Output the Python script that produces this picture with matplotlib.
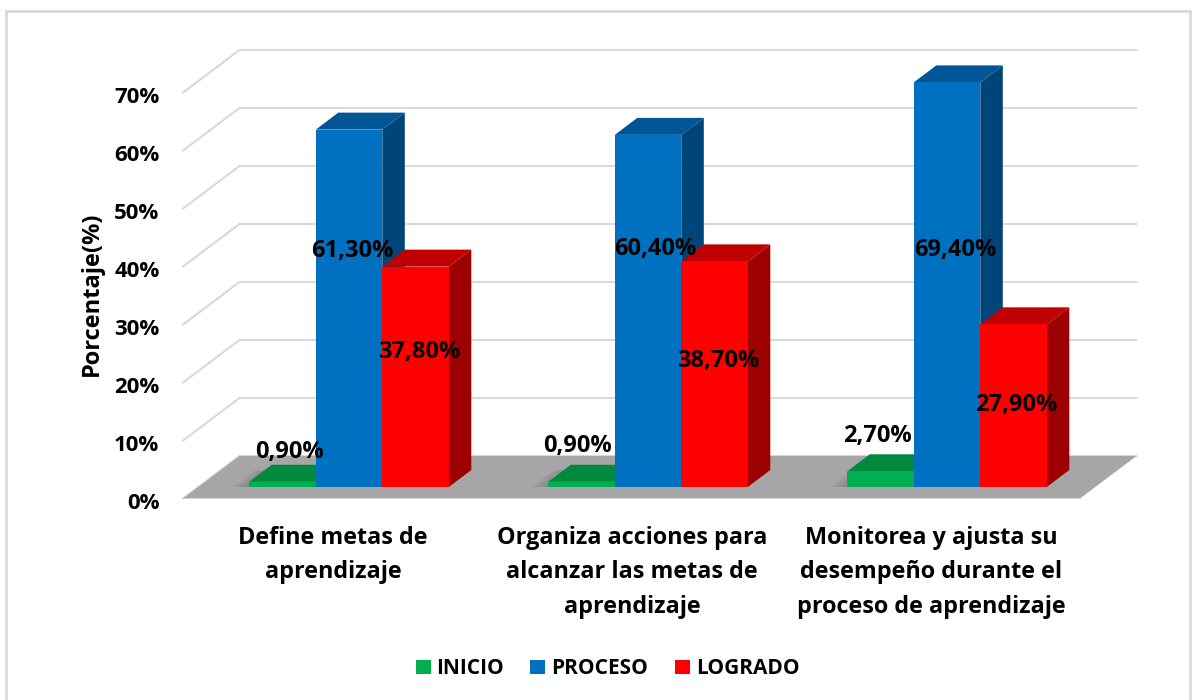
import matplotlib
matplotlib.use("Agg")
import matplotlib.pyplot as plt
from matplotlib.patches import Polygon, Rectangle
from matplotlib.transforms import ScaledTranslation

categories = ["Define metas de\naprendizaje",
              "Organiza acciones para\nalcanzar las metas de\naprendizaje",
              "Monitorea y ajusta su\ndesempeño durante el\nproceso de aprendizaje"]
series = ["INICIO", "PROCESO", "LOGRADO"]
inicio = [0.9, 0.9, 2.7]
proceso = [61.3, 60.4, 69.4]
logrado = [37.8, 38.7, 27.9]
value_labels = [["0,90%", "0,90%", "2,70%"],
                ["61,30%", "60,40%", "69,40%"],
                ["37,80%", "38,70%", "27,90%"]]
ticks = [0, 10, 20, 30, 40, 50, 60, 70]

W, H = 1200, 700
FONT = "Open Sans"
fig = plt.figure(figsize=(W / 100, H / 100), dpi=100, facecolor="white")
fig.add_artist(Rectangle((6 / W, 1 - 720 / H), 1184 / W, 709 / H, transform=fig.transFigure,
                         fill=False, ec="#d9d9d9", lw=2))
L, R, B, T = 183, 1080, 498.5, 92.5
ax = fig.add_axes([L / W, 1 - B / H, (R - L) / W, (B - T) / H])
ax.set_xlim(0, 3)
ax.set_ylim(0, 70)
ax.patch.set_visible(False)
for s in ax.spines.values():
    s.set_visible(False)

ux = (R - L) / 3      # px per x unit
uy = (B - T) / 70     # px per y unit
def dx(p): return p / ux
def dy(p): return p / uy

wall_dx, wall_dy = dx(56.5), dy(42.5)
# walls gridlines
for t in ticks:
    ax.plot([0, wall_dx, 3 + wall_dx], [t, t + wall_dy, t + wall_dy], color="#d9d9d9", lw=1.5,
            clip_on=False, zorder=1, solid_joinstyle="miter")
# floor
ax.add_patch(Polygon([(0, 0), (3, 0), (3 + wall_dx, wall_dy), (wall_dx, wall_dy)],
                     closed=True, fc="#a6a6a6", ec="none", clip_on=False, zorder=2))

colors = [("#00b050", "#008a3e", "#006f32"),
          ("#0070c0", "#005596", "#004578"),
          ("#ff0000", "#c00000", "#9c0000")]
bar_w = dx(66.5)
start = dx(66.3)
base_y = dy(11.5)
depth_x, depth_y = dx(22.5), dy(17)
perspective = 5.83 / uy   # bars stand nearer than the back wall the axis is scaled to
values = [inicio, proceso, logrado]
for c in range(3):
    # soft shadow on the floor, left of each group
    for k in range(1, 9):
        sx = c + start - dx(k * 2.2)
        ax.add_patch(Polygon([(sx, base_y), (c + start, base_y), (c + start + depth_x, base_y + depth_y),
                              (sx + depth_x, base_y + depth_y)],
                             closed=True, fc="#404040", alpha=0.045, ec="none", clip_on=False, zorder=3))
    for s in range(3):
        x = c + start + s * bar_w
        v = values[s][c] * perspective
        front, top, side = colors[s]
        y0, y1 = base_y, base_y + v
        z = 5 + c * 3 + s
        ax.add_patch(Polygon([(x + bar_w, y0), (x + bar_w + depth_x, y0 + depth_y),
                              (x + bar_w + depth_x, y1 + depth_y), (x + bar_w, y1)],
                             closed=True, fc=side, ec="none", clip_on=False, zorder=z))
        ax.add_patch(Polygon([(x, y1), (x + depth_x, y1 + depth_y),
                              (x + bar_w + depth_x, y1 + depth_y), (x + bar_w, y1)],
                             closed=True, fc=top, ec="none", clip_on=False, zorder=z))
        ax.add_patch(Rectangle((x, y0), bar_w, v, fc=front, ec="none", clip_on=False, zorder=z))

ax.set_yticks(ticks)
ax.set_yticklabels([f"{t}%" for t in ticks], fontsize=16, fontweight="bold", family=FONT)
ax.tick_params(axis="y", length=0, pad=17)
ax.set_xticks([])
shift = ScaledTranslation(0, -2 / 72, fig.dpi_scale_trans)
for lab in ax.get_yticklabels():
    lab.set_transform(lab.get_transform() + shift)

def px(x, y, s, **k):
    fig.text(x / W, 1 - (y + 2) / H, s, family=FONT, fontweight="bold", color="black",
             ha="center", va="center", zorder=50, **k)

label_pos = [[(289, 450), (577, 444), (877, 434)],
             [(352, 249), (655, 247), (955, 248)],
             [(419, 350), (718, 359), (1016, 403)]]
for s in range(3):
    for c in range(3):
        px(*label_pos[s][c], value_labels[s][c], fontsize=17)

px(92, 292, "Porcentaje(%)", fontsize=17, rotation=90)
for cx, lab in zip([333, 632, 931], categories):
    for i, line in enumerate(lab.split("\n")):
        px(cx, 536 + i * 34.5, line, fontsize=16.8)

for x, x_text, col, name in zip([416, 530, 675], [470.5, 600, 747.5], ["#00b050", "#0070c0", "#ff0000"], series):
    fig.add_artist(Rectangle((x / W, 1 - 674 / H), 15 / W, 14 / H, transform=fig.transFigure,
                             fc=col, ec="none"))
    px(x_text, 667, name, fontsize=15)

fig.savefig("out.png", dpi=100)
